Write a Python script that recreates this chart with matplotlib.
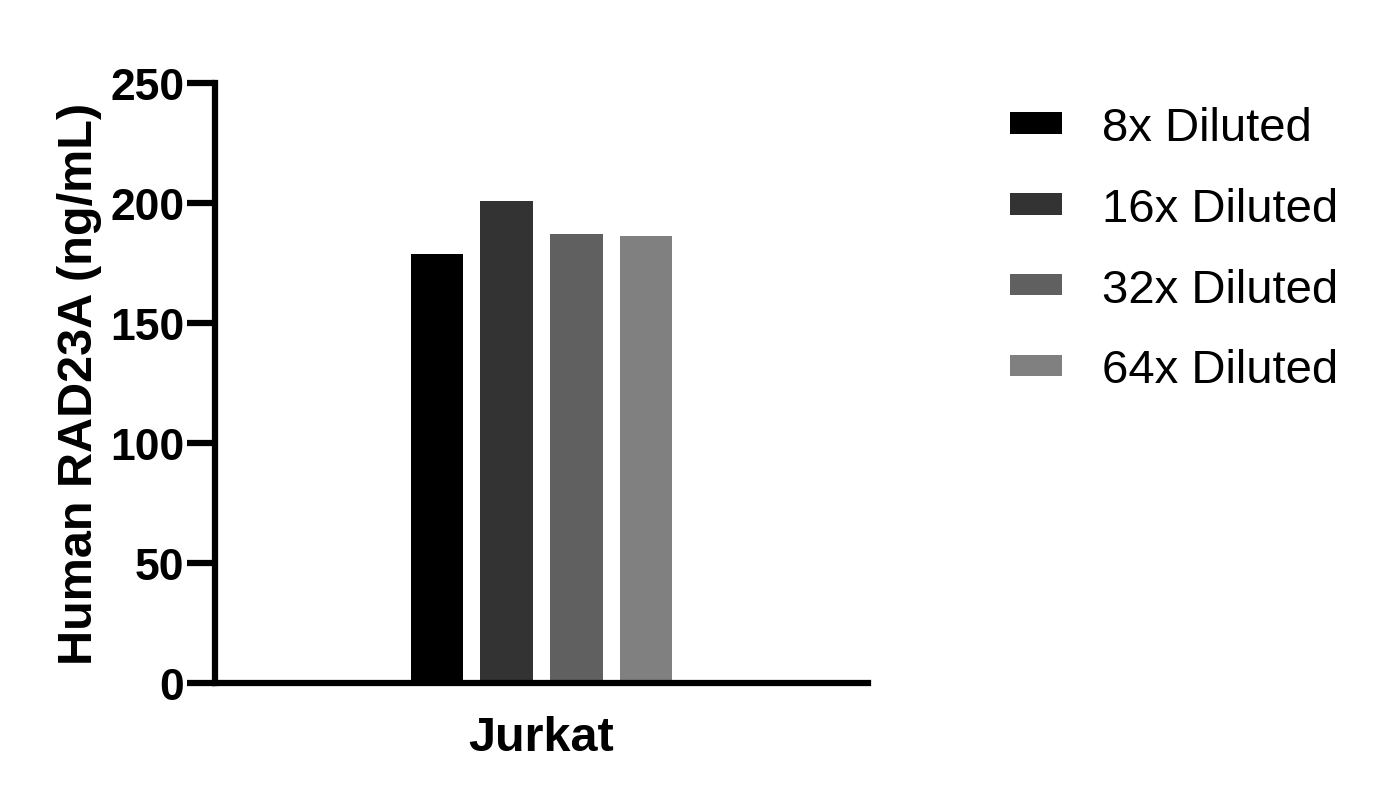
import matplotlib
matplotlib.use("Agg")
import matplotlib.pyplot as plt
import numpy as np
from matplotlib.patches import Patch

categories = ["Jurkat"]
series = ["8x Diluted", "16x Diluted", "32x Diluted", "64x Diluted"]
values = [178.8, 200.8, 187.1, 186.3]
colors = ["#000000", "#333333", "#606060", "#808080"]
yticks = [0, 50, 100, 150, 200, 250]

plt.rcParams['font.family'] = ['Liberation Sans', 'DejaVu Sans']

fig = plt.figure(figsize=(13.86, 8.04), dpi=100)
ax = fig.add_axes([215/1386, 1-684/804, (868-215)/1386, 600/804])

pitch = 0.214
width = 0.16
offsets = (np.arange(len(series)) - (len(series)-1)/2) * pitch
for off, v, c, s in zip(offsets, values, colors, series):
    ax.bar(0 + off, v, width=width, color=c, label=s)

ax.set_xlim(-1, 1)
ax.set_ylim(0, 250)
ax.set_yticks(yticks)
ax.set_yticklabels([str(t) for t in yticks], fontsize=32, fontweight='bold')
ax.set_xticks([0])
ax.set_xticklabels(categories, fontsize=35, fontweight='bold')
ax.tick_params(axis='x', length=0, pad=23)
ax.tick_params(axis='y', length=20, width=4.5, pad=2)
for sp in ['top', 'right']:
    ax.spines[sp].set_visible(False)
for sp in ['left', 'bottom']:
    ax.spines[sp].set_linewidth(4.5)
ax.spines['left'].set_capstyle('projecting')
ax.set_ylabel("Human RAD23A (ng/mL)", fontsize=35, fontweight='bold', labelpad=6)

handles = [Patch(facecolor=c, edgecolor='none') for c in colors]
fig.legend(handles, series, loc='upper left', bbox_to_anchor=(991/1386, 1-88/804),
           frameon=False, fontsize=34, handlelength=1.1, handleheight=0.33,
           handletextpad=0.85, labelspacing=0.78, borderaxespad=0)

fig.savefig("out.png", dpi=100)
